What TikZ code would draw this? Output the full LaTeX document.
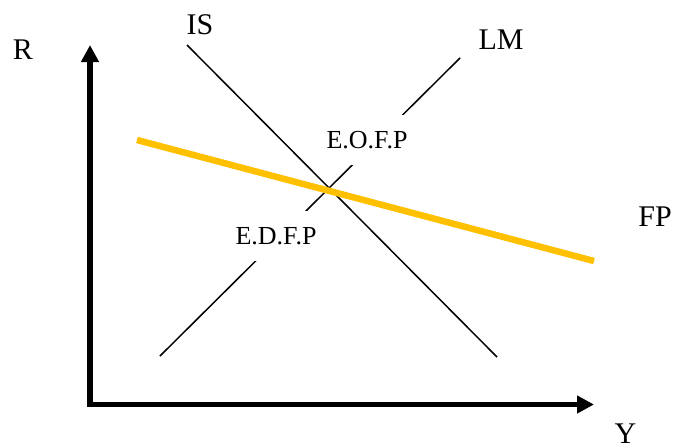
\documentclass[tikz,border=0pt]{standalone}
\usepackage{fontspec}
\setmainfont{Liberation Serif}
\usetikzlibrary{arrows.meta}
\definecolor{fpgold}{HTML}{FFC000}
\tikzset{
  axis/.style={line width=5.5pt, -{Triangle[length=17pt,width=17pt]}},
  curve/.style={line width=1.5pt, black},
  fpline/.style={line width=6.5pt, fpgold},
  biglabel/.style={inner sep=0pt, font=\fontsize{30}{36}\selectfont},
  smalllabel/.style={inner sep=0pt, fill=white, minimum height=50pt, minimum width=96pt, font=\fontsize{26}{31}\selectfont}
}
\begin{document}
\begin{tikzpicture}[x=1pt,y=-1pt]
\useasboundingbox (0,0) rectangle (674,445);
% axes
\coordinate (Rtip) at (90,45);
\coordinate (Ytip) at (594,404.5);
\coordinate (Vbase) at (90,407);
\coordinate (Ocorner) at (88,404.5);
\draw[axis] (Vbase) -- (Rtip);
\draw[axis] (Ocorner) -- (Ytip);
% LM curve
\coordinate (LMa) at (160,356);
\coordinate (LMb) at (460,58);
\draw[curve] (LMa) -- (LMb);
% labels covering LM
\node[smalllabel] (edfp) at (276,236) {E.D.F.P};
\node[smalllabel] (eofp) at (367,140) {E.O.F.P};
% IS curve
\coordinate (ISa) at (187,45);
\coordinate (ISb) at (497,357);
\draw[curve] (ISa) -- (ISb);
% FP line
\coordinate (FPa) at (137,140);
\coordinate (FPb) at (594,261);
\draw[fpline] (FPa) -- (FPb);
% labels
\node[biglabel] (R) at (23,50) {R};
\node[biglabel] (IS) at (200,24.5) {IS};
\node[biglabel] (LM) at (501,40) {LM};
\node[biglabel] (FP) at (655,217) {FP};
\node[biglabel] (Y) at (625.5,434) {Y};
\end{tikzpicture}
\end{document}
